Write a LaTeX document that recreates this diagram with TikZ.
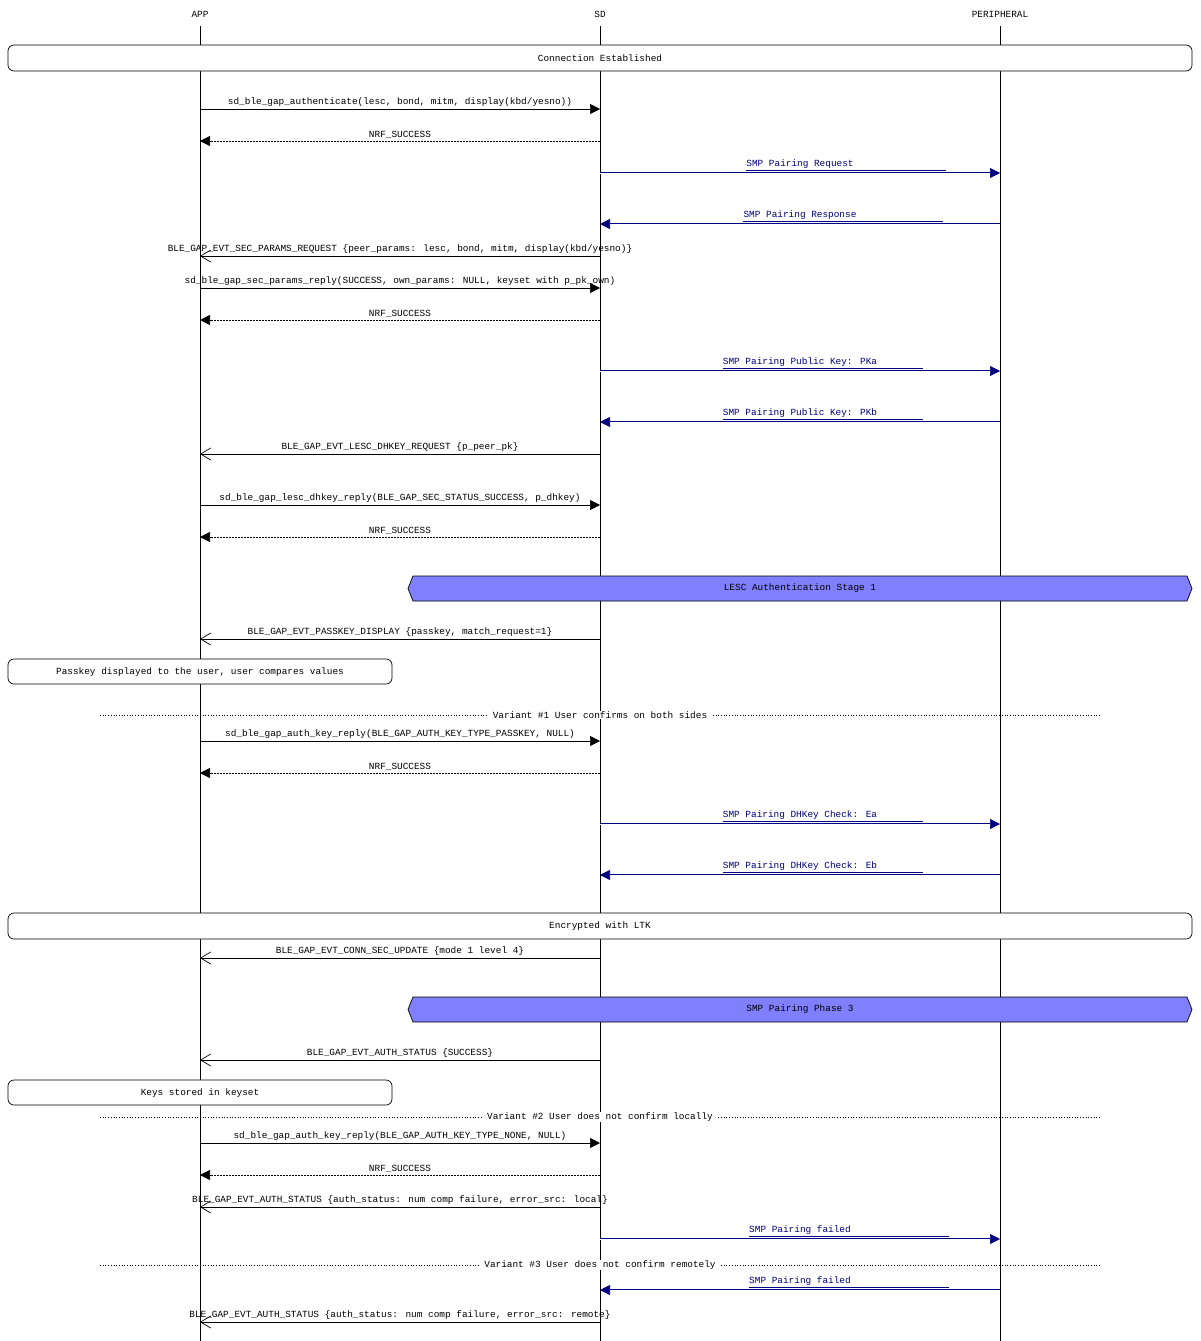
\documentclass[tikz,border=0pt]{standalone}
\usepackage{fontspec}
\setmainfont{Liberation Mono}
\usetikzlibrary{arrows.meta,shapes.misc}
\definecolor{navyc}{HTML}{000080}
\definecolor{boxblue}{HTML}{8080FF}
\tikzset{
  x=1pt,y=-1pt,
  every node/.style={font=\fontsize{9.4}{10}\selectfont,inner sep=0pt},
  life/.style={draw=black,line width=0.7pt},
  call/.style={draw=black,line width=0.7pt,-{Triangle[length=10pt,width=10pt]}},
  ret/.style={draw=black,line width=0.7pt,dashed,dash pattern=on 2pt off 1pt,-{Triangle[length=10pt,width=10pt]}},
  evt/.style={draw=black,line width=0.7pt,-{Straight Barb[length=10pt,width=12pt,line width=0.7pt]}},
  smp/.style={draw=navyc,line width=0.6pt,double=white,double distance=1pt,-{Triangle[length=10pt,width=10pt,fill=navyc,color=navyc]}},
  lbl/.style={anchor=south},
  smplbl/.style={anchor=south,text=navyc},
  rbox/.style={draw=black,fill=white,rounded corners=6pt,line width=0.7pt},
  hexbox/.style={draw=black,fill=boxblue,line width=0.7pt},
  sep/.style={draw=black,dotted,line width=0.7pt},
}
\newcounter{mc}
\newcommand\mymsg[5]{% y, fromx, tox, style, text
  \stepcounter{mc}%
  \coordinate (s\themc) at (#2,#1);
  \coordinate (e\themc) at (#3,#1);
  \draw[#4] (s\themc) -- (e\themc);
  \node[lbl] (l\themc) at ($(s\themc)!0.5!(e\themc)+(0,-2)$) {#5};
}
\newcommand\mysmp[4]{% y, fromx, tox, text
  \stepcounter{mc}%
  \coordinate (s\themc) at (#2,#1);
  \coordinate (e\themc) at (#3,#1);
  \draw[smp] (s\themc) -- (e\themc);
  \node[smplbl] (l\themc) at ($(s\themc)!0.5!(e\themc)+(0,-4)$) {#4};
  \draw[navyc,line width=0.6pt] (l\themc.south west)++(0,1.5) -- ++(200,0);
}
\newcommand\myhex[3]{% ytop, ybot, text
  \stepcounter{mc}%
  \coordinate (ha\themc) at (408,{(#1+#2)/2});
  \coordinate (hb\themc) at (1192,{(#1+#2)/2});
  \draw[hexbox] (ha\themc) -- (413,#1) -- (1187,#1) -- (hb\themc) -- (1187,#2) -- (413,#2) -- cycle;
  \node (h\themc) at ($(ha\themc)!0.5!(hb\themc)$) {#3};
}
\newcommand\mysep[2]{% y, text
  \stepcounter{mc}%
  \coordinate (p\themc) at (100,#1);
  \coordinate (q\themc) at (1100,#1);
  \draw[sep] (p\themc) -- (q\themc);
  \node[fill=white,inner xsep=4pt,inner ysep=1pt] (t\themc) at ($(p\themc)!0.5!(q\themc)$) {#2};
}
\usetikzlibrary{calc}
\begin{document}
\begin{tikzpicture}
\useasboundingbox[fill=white] (0,0) rectangle (1200,1341);
\node (app) at (200,14) {APP};
\node (sd) at (600,14) {SD};
\node (per) at (1000,14) {PERIPHERAL};
\coordinate (appe) at (200,1341);
\coordinate (sde) at (600,1341);
\coordinate (pere) at (1000,1341);
\draw[life] (200,26) -- (appe);
\draw[life] (600,26) -- (sde);
\draw[life] (1000,26) -- (pere);

\draw[rbox] (8,45) rectangle (1192,71);
\node (ce) at (600,58) {Connection Established};

\mymsg{109}{200}{600}{call}{sd\_ble\_gap\_authenticate(lesc, bond, mitm, display(kbd/yesno))}
\mymsg{141}{600}{200}{ret}{NRF\_SUCCESS}
\mysmp{173}{600}{1000}{SMP Pairing Request}
\mysmp{224}{1000}{600}{SMP Pairing Response}
\mymsg{256}{600}{200}{evt}{BLE\_GAP\_EVT\_SEC\_PARAMS\_REQUEST \{peer\_params: lesc, bond, mitm, display(kbd/yesno)\}}
\mymsg{288}{200}{600}{call}{sd\_ble\_gap\_sec\_params\_reply(SUCCESS, own\_params: NULL, keyset with p\_pk\_own)}
\mymsg{320}{600}{200}{ret}{NRF\_SUCCESS}
\mysmp{371}{600}{1000}{SMP Pairing Public Key: PKa}
\mysmp{422}{1000}{600}{SMP Pairing Public Key: PKb}
\mymsg{454}{600}{200}{evt}{BLE\_GAP\_EVT\_LESC\_DHKEY\_REQUEST \{p\_peer\_pk\}}
\mymsg{505}{200}{600}{call}{sd\_ble\_gap\_lesc\_dhkey\_reply(BLE\_GAP\_SEC\_STATUS\_SUCCESS, p\_dhkey)}
\mymsg{537}{600}{200}{ret}{NRF\_SUCCESS}
\myhex{576}{601}{LESC Authentication Stage 1}
\mymsg{639}{600}{200}{evt}{BLE\_GAP\_EVT\_PASSKEY\_DISPLAY \{passkey, match\_request=1\}}
\draw[rbox] (8,659) rectangle (392,684);
\node (pk) at (200,672) {Passkey displayed to the user, user compares values};
\mysep{715}{Variant \#1 User confirms on both sides}
\mymsg{741}{200}{600}{call}{sd\_ble\_gap\_auth\_key\_reply(BLE\_GAP\_AUTH\_KEY\_TYPE\_PASSKEY, NULL)}
\mymsg{773}{600}{200}{ret}{NRF\_SUCCESS}
\mysmp{824}{600}{1000}{SMP Pairing DHKey Check: Ea}
\mysmp{875}{1000}{600}{SMP Pairing DHKey Check: Eb}
\draw[rbox] (8,913) rectangle (1192,939);
\node (enc) at (600,926) {Encrypted with LTK};
\mymsg{958}{600}{200}{evt}{BLE\_GAP\_EVT\_CONN\_SEC\_UPDATE \{mode 1 level 4\}}
\myhex{997}{1022}{SMP Pairing Phase 3}
\mymsg{1060}{600}{200}{evt}{BLE\_GAP\_EVT\_AUTH\_STATUS \{SUCCESS\}}
\draw[rbox] (8,1080) rectangle (392,1105);
\node (ks) at (200,1093) {Keys stored in keyset};
\mysep{1117}{Variant \#2 User does not confirm locally}
\mymsg{1143}{200}{600}{call}{sd\_ble\_gap\_auth\_key\_reply(BLE\_GAP\_AUTH\_KEY\_TYPE\_NONE, NULL)}
\mymsg{1175}{600}{200}{ret}{NRF\_SUCCESS}
\mymsg{1207}{600}{200}{evt}{BLE\_GAP\_EVT\_AUTH\_STATUS \{auth\_status: num comp failure, error\_src: local\}}
\mysmp{1239}{600}{1000}{SMP Pairing failed}
\mysep{1265}{Variant \#3 User does not confirm remotely}
\mysmp{1290}{1000}{600}{SMP Pairing failed}
\mymsg{1322}{600}{200}{evt}{BLE\_GAP\_EVT\_AUTH\_STATUS \{auth\_status: num comp failure, error\_src: remote\}}
\end{tikzpicture}
\end{document}
